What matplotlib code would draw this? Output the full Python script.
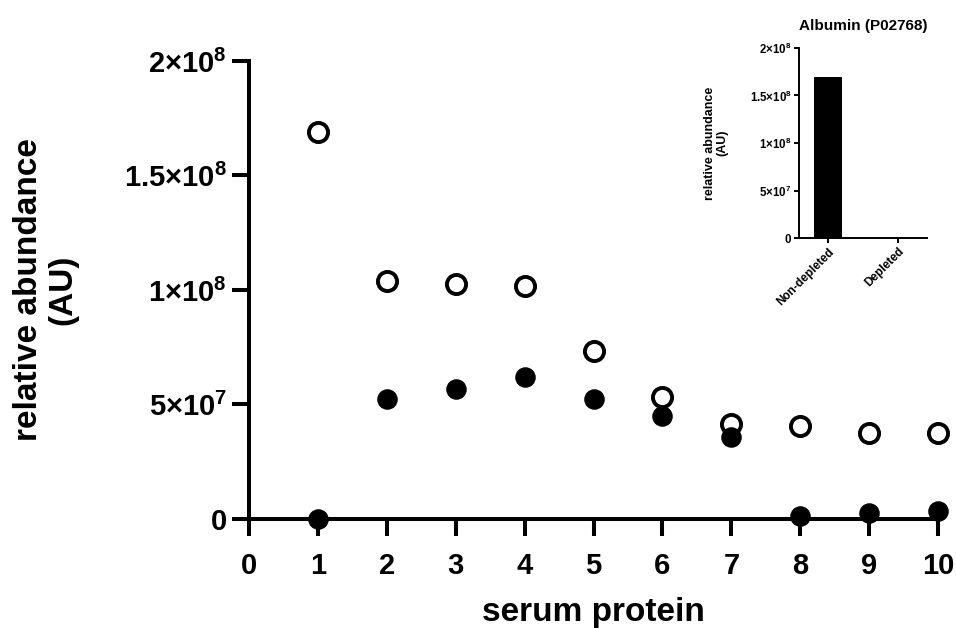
import matplotlib.pyplot as plt
import numpy as np

plt.rcParams['font.family'] = ['Liberation Sans', 'DejaVu Sans']
plt.rcParams['font.weight'] = 'bold'
plt.rcParams['mathtext.fontset'] = 'custom'
plt.rcParams['mathtext.rm'] = 'Liberation Sans:bold'
plt.rcParams['mathtext.it'] = 'Liberation Sans:bold'
plt.rcParams['mathtext.bf'] = 'Liberation Sans:bold'

# serum protein index 1..10
protein = np.arange(1, 11)
non_depleted = [1.69e8, 1.04e8, 1.026e8, 1.017e8, 0.734e8, 0.533e8, 0.415e8, 0.406e8, 0.376e8, 0.376e8]
depleted = [0.0, 0.524e8, 0.568e8, 0.62e8, 0.524e8, 0.45e8, 0.358e8, 0.013e8, 0.026e8, 0.035e8]

# albumin inset
alb_groups = ['Non-depleted', 'Depleted']
alb_values = [1.69e8, 0.0]

y_ticks = [0, 5e7, 1e8, 1.5e8, 2e8]
y_ticklabels = ['0', r'5×10$^{7}$', r'1×10$^{8}$', r'1.5×10$^{8}$', r'2×10$^{8}$']

fig = plt.figure(figsize=(9.56, 6.28), dpi=100)

# ---- main scatter
ax = fig.add_axes([0.2605, 0.1736, 0.7207, 0.7293])
ax.scatter(protein, non_depleted, s=190, facecolors='white', edgecolors='black',
           linewidths=2.8, zorder=3, clip_on=False)
ax.scatter(protein, depleted, s=190, color='black', zorder=4, clip_on=False)

ax.set_xlim(0, 10)
ax.set_ylim(0, 2e8)
ax.set_xticks(range(0, 11))
ax.set_yticks(y_ticks)
ax.set_yticklabels(y_ticklabels)
for s in ['top', 'right']:
    ax.spines[s].set_visible(False)
for s in ['left', 'bottom']:
    ax.spines[s].set_linewidth(2.9)
ax.tick_params(direction='out', length=12, width=2.9, labelsize=21)
ax.tick_params(axis='x', pad=12)
ax.tick_params(axis='y', pad=4)
ax.set_xlabel('serum protein', fontsize=24, fontweight='bold', labelpad=12)
ax.set_ylabel('relative abundance\n(AU)', fontsize=24, fontweight='bold', linespacing=1.15)
ax.yaxis.set_label_coords(-0.248, 0.5)

# ---- inset bar chart
ins = fig.add_axes([0.8358, 0.621, 0.1339, 0.3026])
ins.bar([0, 1], alb_values, width=0.4, color='black')
ins.set_xlim(-0.41, 1.41)
ins.set_ylim(0, 2e8)
ins.set_yticks(y_ticks)
ins.set_yticklabels(y_ticklabels)
ins.set_xticks([0, 1])
ins.set_xticklabels(alb_groups, rotation=45, ha='right', rotation_mode='anchor')
for s in ['top', 'right']:
    ins.spines[s].set_visible(False)
for s in ['left', 'bottom']:
    ins.spines[s].set_linewidth(1.4)
ins.tick_params(direction='out', length=3.5, width=1.4, labelsize=8.3, pad=2)
ins.tick_params(axis='x', labelsize=8.5)
ins.set_ylabel('relative abundance\n(AU)', fontsize=9, fontweight='bold', linespacing=1.1)
ins.yaxis.set_label_coords(-0.55, 0.5)
ins.set_title('Albumin (P02768)', fontsize=11, fontweight='bold', pad=13)

fig.savefig('out.png', dpi=100)
